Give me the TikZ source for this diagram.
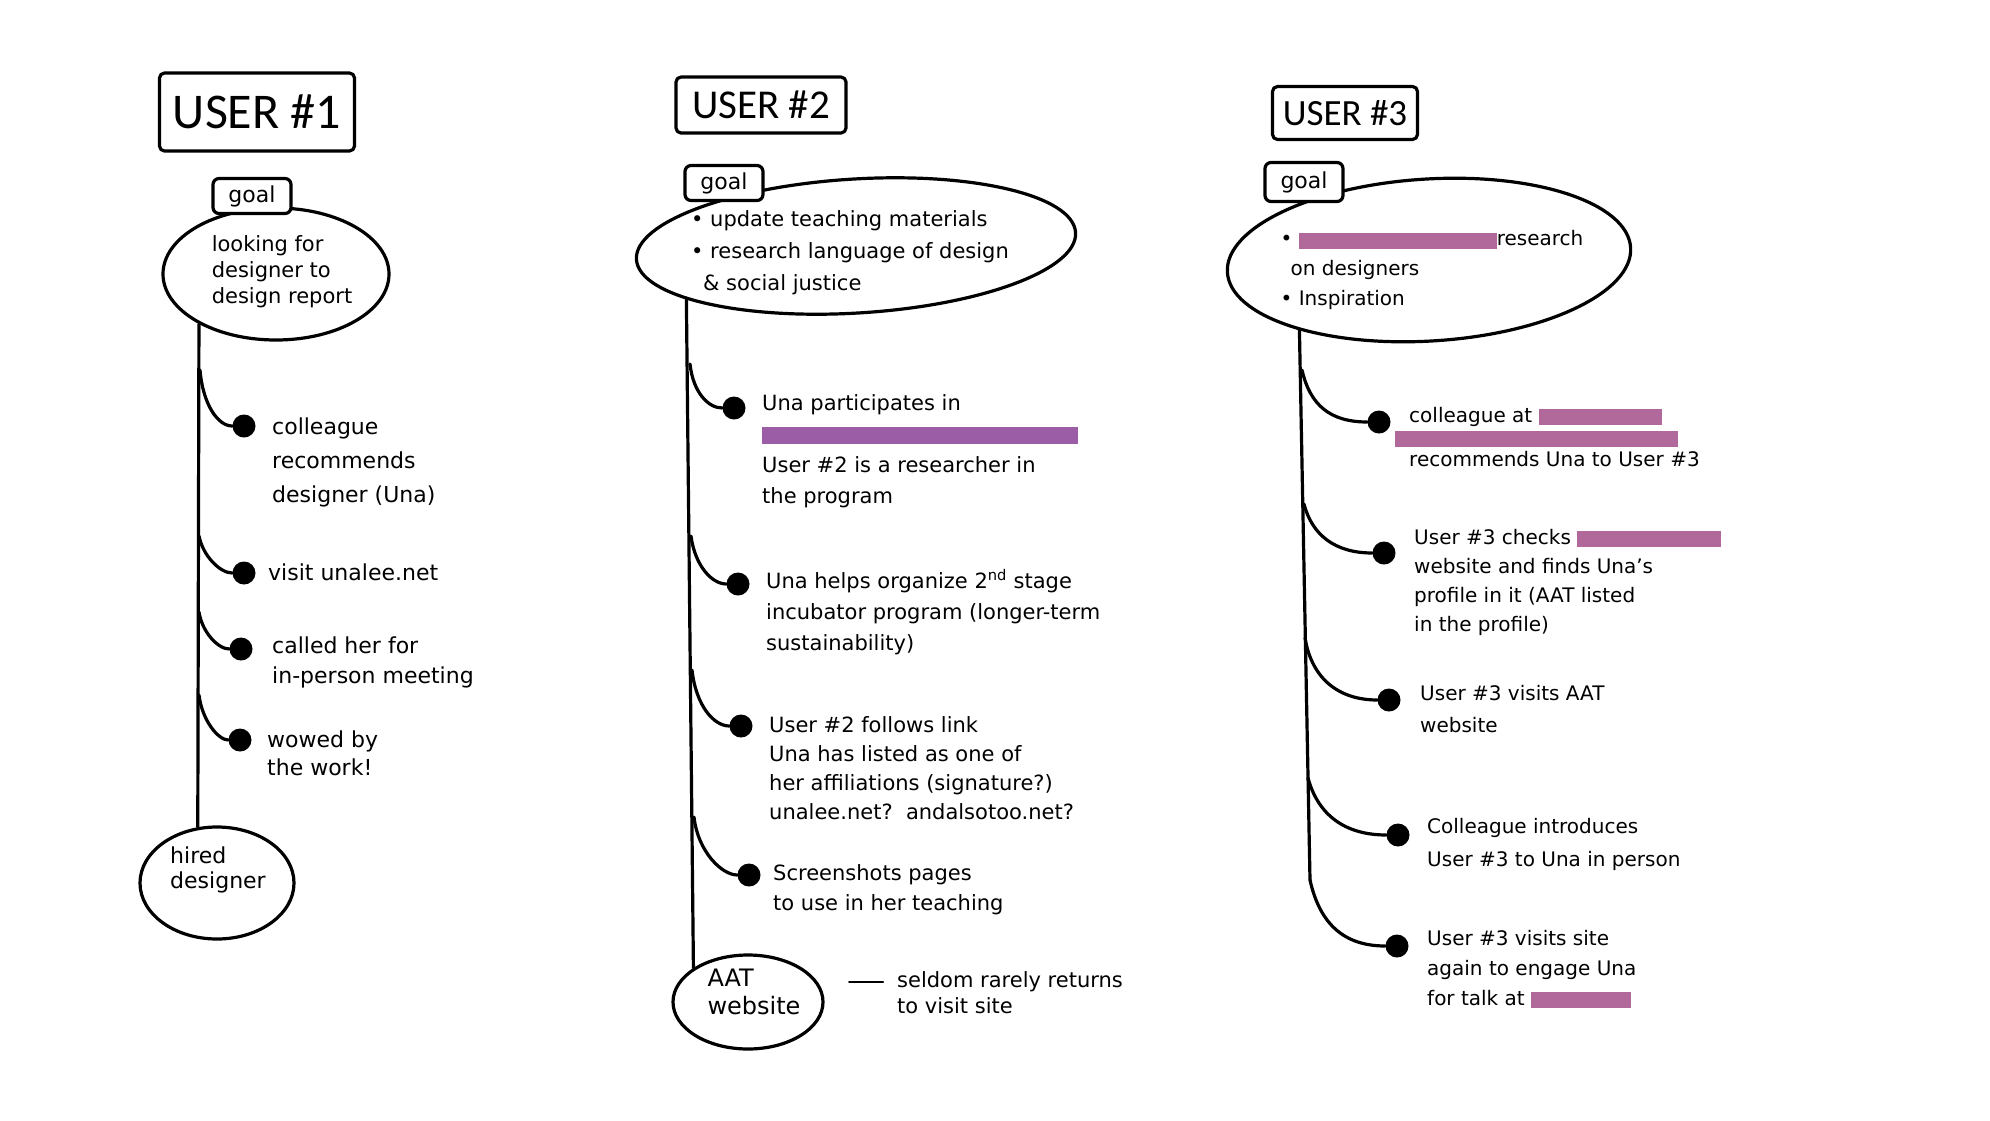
\documentclass[tikz,border=0pt]{standalone}
\usepackage{fontspec}
\setmainfont{DejaVu Sans}
\newfontfamily\titlefont{Carlito}
\usetikzlibrary{shapes.geometric}
\definecolor{blotviolet}{HTML}{9A5DA6}
\definecolor{blotpink}{HTML}{B0699A}
\newcommand{\blotA}[1]{\textcolor{blotviolet}{\rule[-0.15em]{#1}{0.8em}}}
\newcommand{\blotB}[1]{\textcolor{blotpink}{\rule[-0.15em]{#1}{0.8em}}}
\tikzset{
    pen/.style={line width=3.2pt, line cap=round, line join=round},
    titlebox/.style={pen, draw, rounded corners=5pt, inner sep=0pt},
    goaltag/.style={pen, draw, fill=white, rounded corners=6pt, inner sep=0pt,
        minimum width=78pt, minimum height=35pt, font=\fontsize{22}{24}\selectfont},
    goalblob/.style={pen, draw, ellipse, inner sep=0pt, align=left,
        font=\fontsize{21}{26}\selectfont},
    blobtext/.style={align=left, inner sep=0pt, font=\fontsize{21}{32}\selectfont},
    stepdot/.style={circle, fill, inner sep=0pt, minimum size=23pt},
    steptext/.style={anchor=base west, align=left, inner sep=0pt},
}
\begin{document}
\begin{tikzpicture}[x=1pt, y=-1pt]
    \fill[white] (0,0) rectangle (1990,1120);
    \useasboundingbox (0,0) rectangle (1990,1120);

    % user 1
    \node[titlebox, minimum width=195pt, minimum height=78pt,
        font=\titlefont\fontsize{50}{50}\selectfont] (user1) at (257,112) {USER \#1};
    \node[goalblob, minimum width=226pt, minimum height=132pt] (goal1) at (276,274) {};
    \node[blobtext, font=\fontsize{21}{26}\selectfont] (goal1txt) at (282,272)
        {looking for\\designer to\\design report};
    \node[goaltag] (tag1) at (252,196) {goal};
    \node[goalblob, minimum width=154pt, minimum height=112pt] (hired) at (217,883) {};
    \node[blobtext, font=\fontsize{22}{25}\selectfont] (hiredtxt) at (218,870) {hired\\designer};
    \draw[pen] (goal1.213) -- (hired.109);

    \coordinate (b11) at (200,370);
    \coordinate (b12) at (199,536);
    \coordinate (b13) at (199,612);
    \coordinate (b14) at (199,695);
    \node[stepdot] (d11) at (244,426) {};
    \node[stepdot] (d12) at (244,573) {};
    \node[stepdot] (d13) at (241,649) {};
    \node[stepdot] (d14) at (240,740) {};
    \draw[pen] (b11) .. controls (203,405) and (218,426) .. (d11);
    \draw[pen] (b12) .. controls (203,556) and (220,573) .. (d12);
    \draw[pen] (b13) .. controls (202,632) and (218,649) .. (d13);
    \draw[pen] (b14) .. controls (202,720) and (218,740) .. (d14);

    \node[steptext, font=\fontsize{22}{34}\selectfont] (t11) at (272,502)
        {colleague\\recommends\\designer (Una)};
    \node[steptext, font=\fontsize{22}{30}\selectfont] (t12) at (268,580) {visit unalee.net};
    \node[steptext, font=\fontsize{22}{30}\selectfont] (t13) at (272,683)
        {called her for\\in-person meeting};
    \node[steptext, font=\fontsize{22}{28}\selectfont] (t14) at (267,775) {wowed by\\the work!};

    % user 2
    \node[titlebox, minimum width=170pt, minimum height=56pt,
        font=\titlefont\fontsize{41}{41}\selectfont] (user2) at (761,105) {USER \#2};
    \node[goalblob, minimum width=440pt, minimum height=134pt, rotate=3.5] (goal2) at (856,246) {};
    \node[blobtext] (goal2txt) at (850,253)
        {\textbullet\ update teaching materials\\\textbullet\ research language of design\\\hspace*{12pt}\& social justice};
    \node[goaltag] (tag2) at (724,183) {goal};
    \node[goalblob, minimum width=150pt, minimum height=94pt] (aat) at (748,1002) {};
    \node[blobtext, font=\fontsize{24}{28}\selectfont] (aattxt) at (754,992) {AAT\\website};
    \draw[pen] (goal2.194) -- (aat.148);

    \coordinate (b21) at (690,364);
    \coordinate (b22) at (691,536);
    \coordinate (b23) at (692,670);
    \coordinate (b24) at (694,817);
    \node[stepdot] (d21) at (734,408) {};
    \node[stepdot] (d22) at (738,584) {};
    \node[stepdot] (d23) at (741,726) {};
    \node[stepdot] (d24) at (749,875) {};
    \draw[pen] (b21) .. controls (693,392) and (708,408) .. (d21);
    \draw[pen] (b22) .. controls (695,566) and (712,584) .. (d22);
    \draw[pen] (b23) .. controls (696,706) and (714,726) .. (d23);
    \draw[pen] (b24) .. controls (698,852) and (722,875) .. (d24);

    \node[steptext, font=\fontsize{21}{31}\selectfont] (t21) at (762,503)
        {Una participates in\\\blotA{316pt}\\User \#2 is a researcher in\\the program};
    \node[steptext, font=\fontsize{21}{31}\selectfont] (t22) at (766,650)
        {Una helps organize 2\textsuperscript{nd} stage\\incubator program (longer-term\\sustainability)};
    \node[steptext, font=\fontsize{21}{29}\selectfont] (t23) at (769,819)
        {User \#2 follows link\\Una has listed as one of\\her affiliations (signature?)\\unalee.net?\ \ andalsotoo.net?};
    \node[steptext, font=\fontsize{21}{30}\selectfont] (t24) at (773,910)
        {Screenshots pages\\to use in her teaching};
    \node[steptext, font=\fontsize{21}{26}\selectfont] (note) at (897,1013)
        {seldom rarely returns\\to visit site};
    \draw[line width=2pt, line cap=round] ([xshift=-48pt,yshift=31pt]note.base west)
        -- ([xshift=-14pt,yshift=31pt]note.base west);

    % user 3
    \node[titlebox, minimum width=145pt, minimum height=53pt,
        font=\titlefont\fontsize{37}{37}\selectfont] (user3) at (1345,113) {USER \#3};
    \node[goalblob, minimum width=404pt, minimum height=162pt, rotate=3.5] (goal3) at (1429,260) {};
    \node[blobtext, font=\fontsize{20}{30}\selectfont] (goal3txt) at (1432,270)
        {\textbullet\ \blotB{198pt}research\\\hspace*{10pt}on designers\\\textbullet\ Inspiration};
    \node[goaltag, minimum height=39pt] (tag3) at (1304,182) {goal};
    \coordinate (b35) at (1310,880);
    \draw[pen] (goal3.205) -- (b35);

    \coordinate (b31) at (1302,370);
    \coordinate (b32) at (1304,504);
    \coordinate (b33) at (1305,638);
    \coordinate (b34) at (1308,778);
    \node[stepdot] (d31) at (1379,422) {};
    \node[stepdot] (d32) at (1384,553) {};
    \node[stepdot] (d33) at (1389,700) {};
    \node[stepdot] (d34) at (1398,835) {};
    \node[stepdot] (d35) at (1397,946) {};
    \draw[pen] (b31) .. controls (1310,405) and (1330,422) .. (d31);
    \draw[pen] (b32) .. controls (1312,535) and (1335,553) .. (d32);
    \draw[pen] (b33) .. controls (1312,680) and (1340,700) .. (d33);
    \draw[pen] (b34) .. controls (1318,815) and (1345,835) .. (d34);
    \draw[pen] (b35) .. controls (1320,925) and (1345,946) .. (d35);

    \node[steptext, font=\fontsize{20}{22}\selectfont] (t31) at (1409,466)
        {colleague at \blotB{123pt}\\\hspace*{-14pt}\blotB{283pt}\\recommends Una to User \#3};
    \node[steptext, font=\fontsize{20}{29}\selectfont] (t32) at (1414,631)
        {User \#3 checks \blotB{144pt}\\website and finds Una's\\profile in it (AAT listed\\in the profile)};
    \node[steptext, font=\fontsize{20}{32}\selectfont] (t33) at (1420,732)
        {User \#3 visits AAT\\website};
    \node[steptext, font=\fontsize{20}{33}\selectfont] (t34) at (1427,866)
        {Colleague introduces\\User \#3 to Una in person};
    \node[steptext, font=\fontsize{20}{30}\selectfont] (t35) at (1427,1005)
        {User \#3 visits site\\again to engage Una\\for talk at \blotB{100pt}};
\end{tikzpicture}
\end{document}
